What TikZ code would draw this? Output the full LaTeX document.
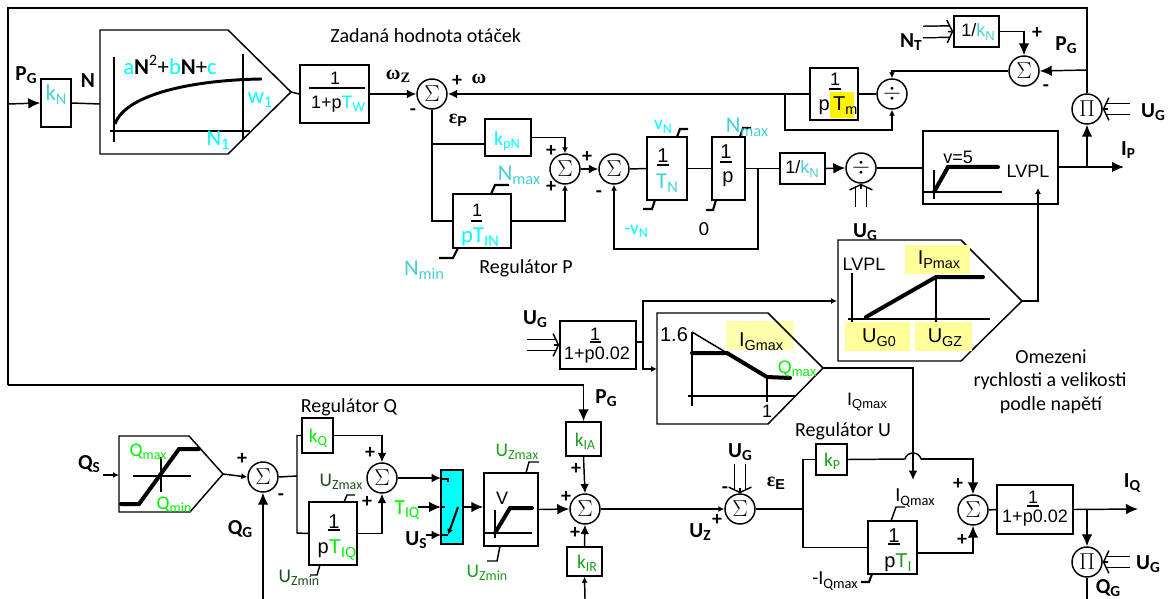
\documentclass[tikz,border=0pt]{standalone}
\usepackage{fontspec}
\usepackage{graphicx}
\setmainfont{Carlito}
\newfontfamily\arl{Liberation Sans}
\newfontfamily\srf{Liberation Serif}
\usetikzlibrary{arrows.meta,fit,calc}
\definecolor{cyn}{HTML}{00FFFF}
\definecolor{trq}{HTML}{48D0D0}
\definecolor{lim}{HTML}{00F000}
\definecolor{grn}{HTML}{1E9A1E}
\definecolor{dgr}{HTML}{1F4F1F}
\definecolor{pal}{HTML}{FFFF99}
\newcommand{\lo}[1]{\raisebox{-.35ex}{\scalebox{.72}{#1}}}
\newcommand{\dblin}[2]{%
  \draw[dbl] (#1) -- (#2);
  \draw[line,-{Straight Barb[length=4pt,width=17pt]}] ($(#2)!4pt!(#1)$) -- (#2);}
\tikzset{>=latex}
\tikzset{
  line/.style={line width=1.1pt},
  thk/.style={line width=1.6pt},
  hvy/.style={line width=3pt},
  bigarr/.style={-{Latex[length=9pt,width=8pt]}},
  medarr/.style={-{Latex[length=7pt,width=6.5pt]}},
  smlarr/.style={-{Latex[length=4.5pt,width=4.5pt]}},
  dbl/.style={line width=1.1pt,double,double distance=7.5pt,shorten >=2.5pt},
  blk/.style={draw,line width=1.1pt,inner sep=0pt},
  sum/.style={draw,circle,line width=1.1pt,minimum size=22.5pt,inner sep=0pt,font=\fontsize{16}{16}\selectfont},
  txt/.style={inner sep=0pt,font=\fontsize{15}{17}\selectfont},
  bld/.style={inner sep=0pt,font=\fontsize{16}{18}\selectfont\bfseries},
  num/.style={inner sep=0pt,font=\arl\fontsize{13.5}{16}\selectfont},
  nbg/.style={inner sep=0pt,font=\arl\fontsize{15}{16}\selectfont},
  sgn/.style={inner sep=0pt,font=\fontsize{15}{15}\selectfont\bfseries},
  par/.style={inner sep=0pt,font=\fontsize{17}{18}\selectfont},
  pars/.style={inner sep=0pt,font=\fontsize{14.5}{16}\selectfont},
  hl/.style={fill=pal}
}
\begin{document}
\begin{tikzpicture}[x=0.75pt,y=-0.75pt]
  \useasboundingbox (0,0) rectangle (1170,599);
  % Blocks
  \node[blk,fit={(41,79) (71,127)}] (kN) {};
  \node[blk,fit={(300,65) (369,123)}] (Tw) {};
  \node[blk,fit={(485,119) (531,156)}] (kpN) {};
  \node[blk,fit={(453,194) (511,248)}] (TIN) {};
  \node[blk,fit={(647,137) (687,200)}] (TN) {};
  \node[blk,fit={(712,137) (745,200)}] (Ip) {};
  \node[blk,fit={(780,153) (825,184)}] (kNb) {};
  \node[blk,fit={(810,68) (858,120)}] (Tm) {};
  \node[blk,fit={(954,16) (999,47)}] (kNt) {};
  \node[blk,fit={(923,131) (1058,204)}] (vlim) {};
  \node[blk,fit={(560,321) (636,369)}] (flt) {};
  \node[blk,fit={(302,418) (333,453)}] (kQ) {};
  \node[blk,fit={(309,502) (357,565)}] (TIQ) {};
  \node[blk,fit={(484,473) (538,546)}] (Vb) {};
  \node[blk,fit={(566,422) (601,456)}] (kIA) {};
  \node[blk,fit={(567,547) (602,576)}] (kIR) {};
  \node[blk,fit={(816,444) (847,475)}] (kP) {};
  \node[blk,fit={(868,521) (917,574)}] (TI) {};
  \node[blk,fit={(997,485) (1073,534)}] (fltQ) {};
  \node[blk,fill=cyn,fit={(441,470) (463,544)}] (sw) {};
  % Summers
  \node[sum] (sP) at (432,94) {$\Sigma$};
  \node[sum] (sR) at (565,169) {$\Sigma$};
  \node[sum] (sN) at (614,169) {$\Sigma$};
  \node[sum] (sT) at (1024,71) {$\Sigma$};
  \node[sum] (dT) at (892,94) {$\div$};
  \node[sum] (dK) at (861,168) {$\div$};
  \node[sum] (mP) at (1087,109) {$\Pi$};
  \node[sum] (sQ) at (263,477) {$\Sigma$};
  \node[sum] (sK) at (382,478) {$\Sigma$};
  \node[sum] (sI) at (585,509) {$\Sigma$};
  \node[sum] (sU) at (740,509) {$\Sigma$};
  \node[sum] (sE) at (973,510) {$\Sigma$};
  \node[sum] (mQ) at (1087,562) {$\Pi$};
  % Free ends
  \coordinate (cTL) at (8,8);
  \coordinate (cIn) at (8,104);
  \coordinate (cBL) at (8,385);
  \coordinate (cPG) at (1087,70);
  \coordinate (cIP) at (1087,167);
  \coordinate (cIPe) at (1124,167);
  \coordinate (cW) at (785,94);
  \coordinate (cWb) at (892,130);
  \coordinate (cNb) at (432,144);
  \coordinate (cFb) at (758,169);
  \coordinate (cFe) at (758,249);
  \coordinate (cLv) at (1038,188);
  \coordinate (cLvt) at (1022,301);
  \coordinate (cFo) at (643,342);
  \coordinate (cLvl) at (837,301);
  \coordinate (cLim) at (657,369);
  \coordinate (cGt) at (823,368);
  \coordinate (cGd) at (913,480);
  \coordinate (cHl) at (905,459);
  \coordinate (cHr) at (921,459);
  \coordinate (cKa) at (297,437);
  \coordinate (cKm) at (297,476);
  \coordinate (cKb) at (297,533);
  \coordinate (cQt) at (223,474);
  \coordinate (cQi) at (103,475);
  \coordinate (cQl) at (119,475);
  \coordinate (cQG) at (263,599);
  \coordinate (cTQ) at (418,507);
  \coordinate (cTQe) at (441,507);
  \coordinate (cUS) at (426,535);
  \coordinate (cUSe) at (441,535);
  \coordinate (cSw) at (441,479);
  \coordinate (cEb) at (803,509);
  \coordinate (cTIo) at (917,553);
  \coordinate (cQo) at (1087,509);
  \coordinate (cQe) at (1138,509);
  \coordinate (cRi) at (585,599);
  \coordinate (cMe) at (1087,599);
  \coordinate (cN1) at (1130,109);
  \coordinate (cN2) at (1130,562);
  \coordinate (cNt) at (923,32);
  \coordinate (cUk) at (861,207);
  \coordinate (cUf) at (527,345);
  \coordinate (cUu) at (740,464);
  % Highlights under the limit blocks
  \fill[yellow] (830,92) rectangle (854,118);
  \fill[hl,opacity=.8] (726,321) rectangle (794,350);
  % Limit blocks
  \draw[line] (100,30) -- (228,30) -- (291,92) -- (228,154) -- (100,154) -- cycle;
  \draw[line] (838,240) -- (961,240) -- (1022,301) -- (961,361) -- (838,361) -- cycle;
  \draw[line] (657,313) -- (768,313) -- (823,368) -- (768,424) -- (657,424) -- cycle;
  \draw[line] (119,436) -- (189,436) -- (223,474) -- (190,512) -- (119,512) -- cycle;
  \fill[hl] (905,245) rectangle (970,274);
  \fill[hl] (845,322) rectangle (910,351);
  \fill[hl] (915,322) rectangle (972,351);
  % Connectors, top
  \draw[line] (mP.north) |- (cTL) -- (cBL);
  \draw[line,bigarr] (cBL) -| (kIA.north);
  \draw[line,bigarr] (cIn) -- (kN.west);
  \draw[line] (kN.east) -- (100,104);
  \draw[line] (291,92) -- (Tw.west);
  \draw[line,medarr] (Tw.east) -- (sP.west);
  \draw[thk,medarr] (Tm.west) -- (sP.east);
  \draw[line] (sP.south) |- (TIN.west);
  \draw[line] (cNb) -- (cNb -| kpN.west);
  \draw[line,smlarr] (kpN.east) -| (sR.north);
  \draw[line,smlarr] (TIN.east) -| (sR.south);
  \draw[line,medarr] (sR.east) -- (sN.west);
  \draw[line] (sN.east) -- (TN.west);
  \draw[line] (TN.east) -- (Ip.west);
  \draw[line] (Ip.east) -- (Ip.east -| kNb.west);
  \draw[line,smlarr] (cFb) |- (cFe) -| (sN.south);
  \draw[line,bigarr] (kNb.east) -- (dK.west);
  \draw[line] (dK.east) -- (dK.east -| vlim.west);
  \draw[line] (dT.west) -- (Tm.east);
  \draw[line,smlarr] (cW) |- (cWb) -- (dT.south);
  \draw[line,smlarr] (sT.west) -| (dT.north);
  \draw[line,bigarr] (kNt.east) -| (sT.north);
  \draw[line,bigarr] (cPG) -- (sT.east);
  \draw[line,bigarr] (cIP) -- (mP.south);
  \draw[line,bigarr] (vlim.east |- cIPe) -- (cIPe);
  \dblin{cN1}{mP.east}
  \dblin{cNt}{kNt.west}
  \dblin{cUk}{dK.south}
  % Connectors, middle
  \dblin{cUf}{flt.west}
  \draw[line] (flt.east |- cFo) -- (cFo);
  \draw[line,smlarr] (cFo) |- (cLvl);
  \draw[line,smlarr] (cFo) |- (cLim);
  \draw[line,smlarr] (cLvt) -| (cLv);
  \draw[line,medarr] (cGt) -| (cGd);
  % Connectors, bottom
  \draw[line,smlarr] (cQi) -- (cQl);
  \draw[line,smlarr] (cQt) -- (sQ.west);
  \draw[line,bigarr] (cQG) -- (sQ.south);
  \draw[line] (sQ.east) -- (cKm);
  \draw[line] (kQ.west) -| (cKa) -- (cKb) -- (TIQ.west);
  \draw[line,medarr] (kQ.east) -| (sK.north);
  \draw[line,medarr] (TIQ.east) -| (sK.south);
  \draw[line,medarr] (sK.east) -- (sK.east -| cSw);
  \draw[line,bigarr] (cTQ) -- (cTQe);
  \draw[line,medarr] (cUS) -- (cUSe);
  \draw[line,bigarr] (sw.east) -- (sw.east -| Vb.west);
  \draw[line,bigarr] (Vb.east) -- (sI.west);
  \draw[line,medarr] (kIA.south) -- (sI.north);
  \draw[line,medarr] (kIR.north) -- (sI.south);
  \draw[line,smlarr] (cRi) -- (kIR.south);
  \draw[line,smlarr] (sI.east) -- (sU.west);
  \dblin{cUu}{sU.north}
  \draw[line] (sU.east) -- (cEb);
  \draw[line] (kP.west) -| (cEb) |- (TI.west);
  \draw[line] (kP.east) -- (cHl) .. controls (907,451) and (919,451) .. (cHr);
  \draw[line,bigarr] (cHr) -| (sE.north);
  \draw[line,bigarr] (cTIo) -| (sE.south);
  \draw[line] (sE.east) -- (fltQ.west);
  \draw[line,bigarr] (fltQ.east) -- (cQe);
  \draw[line,bigarr] (cQo) -- (mQ.north);
  \dblin{cN2}{mQ.east}
  \draw[line] (mQ.south) -- (cMe);
  % Inside the limit blocks
  \draw[line] (114,57) -- (114,142);
  \draw[line] (110,131) -- (250,131);
  \draw[line] (243,54) -- (243,140);
  \draw[line width=2.2pt] (115,124) .. controls (125,95) and (190,80) .. (262,79);
  \draw[line] (852,273) -- (852,322);
  \draw[line] (848,319) -- (990,319);
  \draw[line] (936,277) -- (936,322);
  \draw[hvy,line cap=round] (866,317) -- (936,277) -- (983,277);
  \draw[line] (692,332) -- (692,406);
  \draw[line] (688,396) -- (796,396);
  \draw[line] (767,377) -- (767,402);
  \draw[line] (692,332) -- (727,353);
  \draw[hvy,line cap=round] (692,353) -- (727,353) -- (767,377) -- (790,378);
  \draw[line] (133,476) -- (191,476);
  \draw[line] (161,457) -- (161,492);
  \draw[hvy,line cap=round] (121,504) -- (139,504) -- (179,449) -- (199,449);
  \draw[line] (934,170) -- (934,199);
  \draw[line] (924,192) -- (1002,192);
  \draw[hvy,line cap=round] (934,192) -- (948,167) -- (998,167);
  \draw[line] (495,510) -- (495,538);
  \draw[line] (485,533) -- (532,533);
  \draw[hvy,line cap=round] (495,533) -- (510,508) -- (532,508);
  % Limit marks
  \draw[thk] (491,194) -- (495,185) -- (509,185);
  \draw[thk] (458,248) -- (453,258) -- (439,258);
  \draw[thk] (677,137) -- (680,129) -- (688,129);
  \draw[thk] (655,200) -- (652,209) -- (643,209);
  \draw[thk] (740,137) -- (743,128) -- (751,128);
  \draw[thk] (716,200) -- (713,210) -- (706,210);
  \draw[line] (344,502) -- (347,495) -- (355,495);
  \draw[line] (320,565) -- (317,575) -- (310,575);
  \draw[line] (526,473) -- (529,462) -- (539,462);
  \draw[line] (500,546) -- (497,561) -- (487,561);
  \draw[line] (891,521) -- (896,507) -- (905,507);
  \draw[thk] (872,574) -- (869,582) -- (861,582);
  % Switch
  \draw[line] (441,479) -- (448,479) -- (448,482);
  \draw[line] (441,507) -- (445,507);
  \draw[line] (441,535) -- (448,535);
  \draw[thk,smlarr] (458,507) -- (448,535);
  % Fraction bars
  \draw[line] (309,88) -- (365,88);
  \draw[line] (471,221) -- (482,221);
  \draw[line] (657,165) -- (669,165);
  \draw[line] (720,162) -- (732,162);
  \draw[line] (829,89) -- (841,89);
  \draw[line] (590,342) -- (601,342);
  \draw[line] (328,530) -- (340,530);
  \draw[line] (888,544) -- (900,544);
  \draw[line] (1027,506) -- (1039,506);
  % Texts
  \node[txt,anchor=west] (tZad) at (330,36) {Zadaná hodnota otáček};
  \node[txt] (tRegP) at (526,268) {Regulátor P};
  \node[txt] (tRegQ) at (349,407) {Regulátor Q};
  \node[txt] (tRegU) at (843,431) {Regulátor U};
  \node[txt] (tOm1) at (1051,357) {Omezeni};
  \node[txt] (tOm2) at (1050,381) {rychlosti a velikosti};
  \node[txt] (tOm3) at (1051,405) {podle napětí};
  \node[bld] (tPG) at (26,75) {P\lo{G}};
  \node[bld] (tN) at (88,81) {N};
  \node[bld] (tPGb) at (1066,45) {P\lo{G}};
  \node[bld] (tNT) at (911,42) {N\lo{T}};
  \node[bld] (tUGa) at (1153,112) {U\lo{G}};
  \node[bld] (tIP) at (1128,150) {I\lo{P}};
  \node[bld] (tUGb) at (865,232) {U\lo{G}};
  \node[bld] (tUGc) at (535,319) {U\lo{G}};
  \node[bld] (tPGc) at (606,398) {P\lo{G}};
  \node[bld] (tQS) at (89,464) {Q\lo{S}};
  \node[bld] (tQG) at (240,529) {Q\lo{G}};
  \node[bld] (tUS) at (416,540) {U\lo{S}};
  \node[bld] (tUGd) at (740,452) {U\lo{G}};
  \node[bld] (tUZ) at (700,532) {U\lo{Z}};
  \node[bld] (tIQ) at (1132,483) {I\lo{Q}};
  \node[bld] (tUGe) at (1148,564) {U\lo{G}};
  \node[bld] (tQGb) at (1108,588) {Q\lo{G}};
  \node[inner sep=0pt,font=\srf\fontsize{15}{17}\selectfont\bfseries] (tWz) at (398,76) {ω\lo{Z}};
  \node[inner sep=0pt,font=\srf\fontsize{15}{17}\selectfont\bfseries] (tW) at (479,79) {ω};
  \node[inner sep=0pt,font=\srf\fontsize{15}{17}\selectfont\bfseries] (tEp) at (458,120) {ε\lo{\arl P}};
  \node[inner sep=0pt,font=\srf\fontsize{15}{17}\selectfont\bfseries] (tEe) at (776,483) {ε\lo{\arl E}};
  % Signs
  \node[sgn] (p1) at (457,81) {+};
  \node[sgn] (m1) at (413,112) {-};
  \node[sgn] (p2) at (551,151) {+};
  \node[sgn] (p3) at (551,187) {+};
  \node[sgn] (p4) at (587,157) {+};
  \node[sgn] (m2) at (599,194) {-};
  \node[sgn] (p5) at (1037,33) {+};
  \node[sgn] (m3) at (1046,88) {-};
  \node[sgn] (p6) at (242,459) {+};
  \node[sgn] (m4) at (281,497) {-};
  \node[sgn] (p7) at (370,453) {+};
  \node[sgn] (p8) at (367,502) {+};
  \node[sgn] (p9) at (566,497) {+};
  \node[sgn] (p10) at (576,469) {+};
  \node[sgn] (p11) at (575,533) {+};
  \node[sgn] (m5) at (725,490) {-};
  \node[sgn] (p12) at (717,520) {+};
  \node[sgn] (p13) at (958,484) {+};
  \node[sgn] (p14) at (962,540) {+};
  % Block contents
  \node[par,text=trq] (tkN) at (56,95) {k\lo{N}};
  \node[num] (t1a) at (335,78) {1};
  \node[num] (t1b) at (338,104) {1+p\textcolor{cyn}{T\lo{W}}};
  \node[par,text=cyn] (tkpN) at (507,141) {\fontsize{15}{16}\selectfont k\lo{pN}};
  \node[num] (t1c) at (477,210) {1};
  \node[par,text=cyn] (tpTIN) at (480,237) {\fontsize{17}{18}\selectfont pT\lo{IN}};
  \node[nbg] (t1d) at (663,156) {1};
  \node[par,text=trq] (tTN) at (667,183) {T\lo{N}};
  \node[nbg] (t1e) at (726,152) {1};
  \node[nbg] (tp) at (728,179) {p};
  \node[num] (tkNb) at (802,169) {1/\textcolor{trq}{k\lo{N}}};
  \node[num] (t1f) at (835,79) {1};
  \node[nbg] (tTm) at (838,106) {p\,T\lo{m}};
  \node[num] (tkNt) at (978,32) {1/\textcolor{trq}{k\lo{N}}};
  \node[num] (t1g) at (595,334) {1};
  \node[num] (t1h) at (597,355) {1+p0.02};
  \node[num] (t1i) at (1033,497) {1};
  \node[num] (t1j) at (1035,518) {1+p0.02};
  \node[nbg] (t1k) at (334,522) {1};
  \node[nbg] (tpTIQ) at (337,550) {p\textcolor{lim}{T\lo{IQ}}};
  \node[nbg] (t1l) at (894,536) {1};
  \node[nbg] (tpTI) at (898,563) {p\textcolor{grn}{T\lo{I}}};
  \node[pars,text=lim] (tkQ) at (318,438) {k\lo{Q}};
  \node[pars,text=grn] (tkIA) at (585,441) {k\lo{IA}};
  \node[pars,text=grn] (tkIR) at (587,563) {k\lo{IR}};
  \node[pars,text=grn] (tkP) at (832,461) {k\lo{P}};
  % Inside texts
  \node[par] (tPoly) at (170,65) {\textcolor{cyn}{a}\textbf{N}\textsuperscript{2}+\textcolor{cyn}{b}\textbf{N}+\textcolor{cyn}{c}};
  \node[par,text=cyn] (tw1) at (260,100) {w\lo{1}};
  \node[par,text=cyn] (tN1) at (218,140) {N\lo{1}};
  \node[num] (tv5) at (958,157) {v=5};
  \node[num] (tLv) at (1028,171) {LVPL};
  \node[num] (tLvb) at (864,264) {LVPL};
  \node[nbg] (tIPm) at (939,260) {I\lo{Pmax}};
  \node[nbg] (tUG0) at (879,338) {U\lo{G0}};
  \node[nbg] (tUGZ) at (945,338) {U\lo{GZ}};
  \node[nbg] (t16) at (674,335) {1.6};
  \node[nbg] (tIGm) at (761,342) {I\lo{Gmax}};
  \node[num] (t1m) at (767,411) {1};
  \node[num,text=lim] (tQmb) at (797,369) {Q\lo{max}};
  \node[num] (tV) at (502,498) {V};
  % Parameter labels
  \node[par,text=trq] (tNmx) at (519,175) {N\lo{max}};
  \node[par,text=trq] (tNmn) at (424,270) {N\lo{min}};
  \node[pars,text=cyn] (tvN) at (663,127) {v\lo{N}};
  \node[par,text=trq] (tNmt) at (747,127) {N\lo{max}};
  \node[pars,text=cyn] (tvNm) at (636,231) {-v\lo{N}};
  \node[txt] (t0) at (704,229) {0};
  \node[num] (tIQm) at (867,402) {I\lo{Qmax}};
  \node[txt] (tIQt) at (915,498) {I\lo{Qmax}};
  \node[txt] (tIQn) at (835,581) {-I\lo{Qmax}};
  \node[pars,text=lim] (tQmx) at (148,452) {Q\lo{max}};
  \node[pars,text=lim] (tQmn) at (174,505) {Q\lo{min}};
  \node[pars,text=dgr] (tUZx) at (341,482) {U\lo{Zmax}};
  \node[pars,text=dgr] (tUZn) at (299,578) {U\lo{Zmin}};
  \node[pars,text=grn] (tUZX) at (517,452) {U\lo{Zmax}};
  \node[pars,text=grn] (tUZN) at (487,573) {U\lo{Zmin}};
  \node[pars,text=lim,font=\fontsize{16}{17}\selectfont] (tTIQ) at (407,510) {T\lo{IQ}};
\end{tikzpicture}
\end{document}
